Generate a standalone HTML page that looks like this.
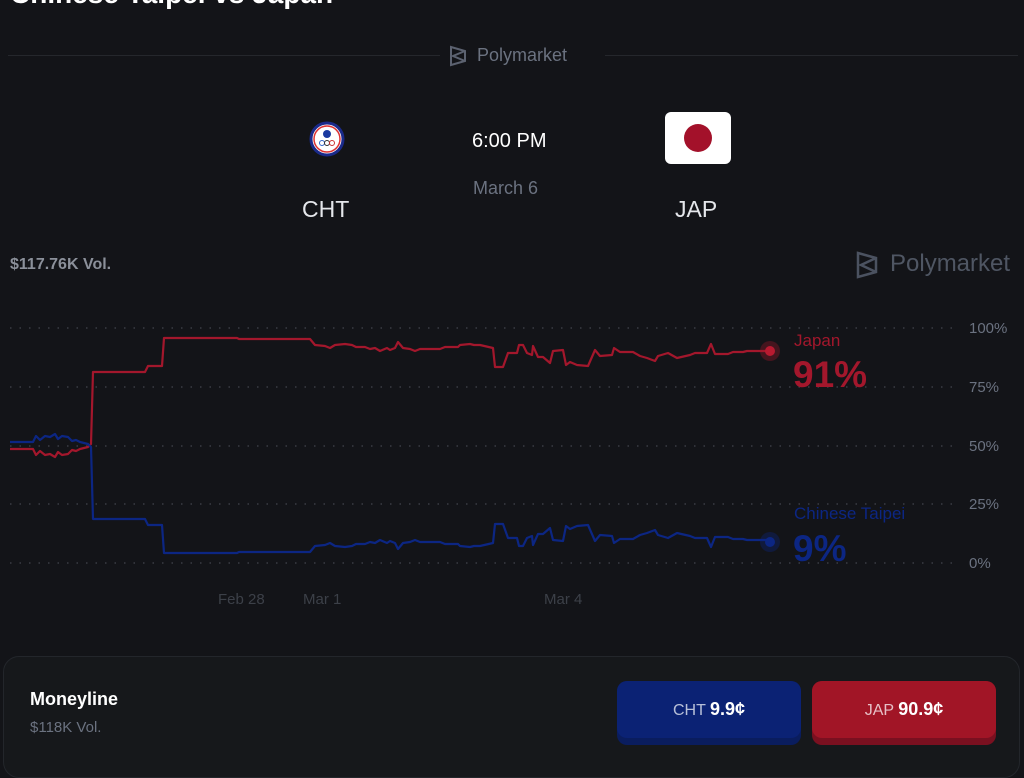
<!DOCTYPE html>
<html><head><meta charset="utf-8"><style>
body{margin:0;width:1024px;height:757px;background:#131418;overflow:hidden;font-family:"Liberation Sans",sans-serif;position:relative}
.a{position:absolute;white-space:nowrap}
</style></head><body>
<div class="a" style="left:10px;top:-22px;font-size:28px;font-weight:bold;color:#fff">Chinese Taipei vs Japan</div>
<div class="a" style="left:8px;top:55px;width:432px;height:1px;background:#25272c"></div>
<div class="a" style="left:605px;top:55px;width:413px;height:1px;background:#25272c"></div>
<svg class="a" style="left:448px;top:45px" width="20" height="22" viewBox="0 0 20 22"><path d="M3 2 L17 6 L17 16 L3 20 Z M3 2 L3 20 M17 6 L5 11 L17 16" fill="none" stroke="#5c6270" stroke-width="2"/></svg>
<div class="a" style="left:477px;top:45px;font-size:18px;color:#6b7280">Polymarket</div>
<svg class="a" style="left:308px;top:120px" width="38" height="38" viewBox="0 0 38 38"><circle cx="19" cy="19" r="16" fill="#fff" stroke="#1a2a8a" stroke-width="3"/><circle cx="19" cy="19" r="13" fill="none" stroke="#d33" stroke-width="1.5"/><circle cx="19" cy="14" r="4" fill="#1a3aa0"/><circle cx="14" cy="23" r="2.5" fill="none" stroke="#36c" /><circle cx="19" cy="23" r="2.5" fill="none" stroke="#333"/><circle cx="24" cy="23" r="2.5" fill="none" stroke="#c33"/></svg>
<div class="a" style="left:472px;top:130px;font-size:20px;color:#fff">6:00 PM</div>
<div class="a" style="left:473px;top:178px;font-size:18px;color:#6b7280">March 6</div>
<div class="a" style="left:302px;top:196px;font-size:23px;color:#e5e7eb">CHT</div>
<div class="a" style="left:675px;top:196px;font-size:23px;color:#e5e7eb">JAP</div>
<div class="a" style="left:665px;top:112px;width:66px;height:52px;background:#fff;border-radius:6px"><div style="position:absolute;left:19px;top:12px;width:28px;height:28px;border-radius:50%;background:#a3112a"></div></div>
<div class="a" style="left:10px;top:256px;font-size:16px;font-weight:bold;color:#8b909a">$117.76K Vol.</div>
<svg class="a" style="left:854px;top:250px" width="26" height="30" viewBox="0 0 26 30"><path d="M4 3 L22 8 L22 22 L4 27 Z M4 3 L4 27 M22 8 L7 15 L22 22" fill="none" stroke="#4b5260" stroke-width="2.5"/></svg>
<div class="a" style="left:890px;top:250px;font-size:24px;color:#4f5663">Polymarket</div>
<svg class="a" style="left:0;top:0" width="1024" height="640" id="c">
<g stroke="#3a3d44" stroke-width="1.5" stroke-dasharray="1.5 8">
<line x1="10" y1="328" x2="958" y2="328"/><line x1="10" y1="387" x2="958" y2="387"/><line x1="10" y1="446" x2="958" y2="446"/><line x1="10" y1="504" x2="958" y2="504"/><line x1="10" y1="563" x2="958" y2="563"/></g>
<g font-size="15" fill="#6b7280" font-family="Liberation Sans"><text x="969" y="333">100%</text><text x="969" y="392">75%</text><text x="969" y="451">50%</text><text x="969" y="509">25%</text><text x="969" y="568">0%</text></g>
<g font-size="15" fill="#3c4048" font-family="Liberation Sans"><text x="218" y="604">Feb 28</text><text x="303" y="604">Mar 1</text><text x="544" y="604">Mar 4</text></g>
<polyline id="pj" fill="none" stroke="#a3172c" stroke-width="2.2" stroke-linejoin="round"/>
<polyline id="pb" fill="none" stroke="#0c2683" stroke-width="2.2" stroke-linejoin="round"/>
<circle cx="770" cy="351" r="10" fill="#a3172c" opacity="0.35"/><circle cx="770" cy="351" r="5" fill="#b81a30"/>
<circle cx="770" cy="542" r="10" fill="#0c2683" opacity="0.35"/><circle cx="770" cy="542" r="5" fill="#0c2683"/>
<text x="794" y="346" font-size="17" fill="#a3172c" font-family="Liberation Sans">Japan</text>
<text x="793" y="387" font-size="37" font-weight="bold" fill="#a3172c" font-family="Liberation Sans">91%</text>
<text x="794" y="519" font-size="17" fill="#0c2683" font-family="Liberation Sans">Chinese Taipei</text>
<text x="793" y="561" font-size="37" font-weight="bold" fill="#0c2683" font-family="Liberation Sans">9%</text>
</svg>
<div class="a" style="left:3px;top:656px;width:1015px;height:120px;background:#16181b;border:1px solid #23262b;border-radius:16px"></div>
<div class="a" style="left:30px;top:689px;font-size:18px;font-weight:bold;color:#fff">Moneyline</div>
<div class="a" style="left:30px;top:719px;font-size:15px;color:#6b7280">$118K Vol.</div>
<div class="a" style="left:617px;top:681px;width:184px;height:64px;background:#0a1d5e;border-radius:10px"><div style="height:57px;background:#0b2274;border-radius:10px;text-align:center;line-height:57px;font-size:16px;color:#b8c0d8">CHT <b style="color:#fff;font-size:18px">9.9¢</b></div></div>
<div class="a" style="left:812px;top:681px;width:184px;height:64px;background:#7a1020;border-radius:10px"><div style="height:57px;background:#a11526;border-radius:10px;text-align:center;line-height:57px;font-size:16px;color:#e6c0c6">JAP <b style="color:#fff;font-size:18px">90.9¢</b></div></div>
<script>
var p=[10,449,33,449,36,455,40,451,45,455,50,454,55,457,58,452,62,455,68,454,72,450,76,451,80,449,88,447,91,444,93,372,145,372,148,366,162,366,164,338,237,338,239,339,310,339,315,345,325,346,330,348,335,345,345,344,352,345,356,347,365,347,370,349,375,348,380,351,387,348,390,350,395,348,398,342,403,348,410,349,415,351,420,349,440,349,445,347,458,347,460,345,470,344,474,345,480,345,493,348,495,367,503,367,508,353,517,353,519,345,523,345,527,353,532,355,533,346,538,357,543,357,550,363,553,351,563,350,566,365,570,362,577,365,588,366,595,350,600,356,612,355,614,348,620,352,633,352,640,356,647,358,655,361,658,356,668,353,677,358,690,355,695,353,707,353,711,344,715,354,728,354,733,352,743,352,747,351,770,351];
var a=[],b=[];for(var i=0;i<p.length;i+=2){a.push(p[i]+','+p[i+1]);b.push(p[i]+','+(891-p[i+1]));}
document.getElementById('pj').setAttribute('points',a.join(' '));document.getElementById('pb').setAttribute('points',b.join(' '));
</script>
</body></html>
